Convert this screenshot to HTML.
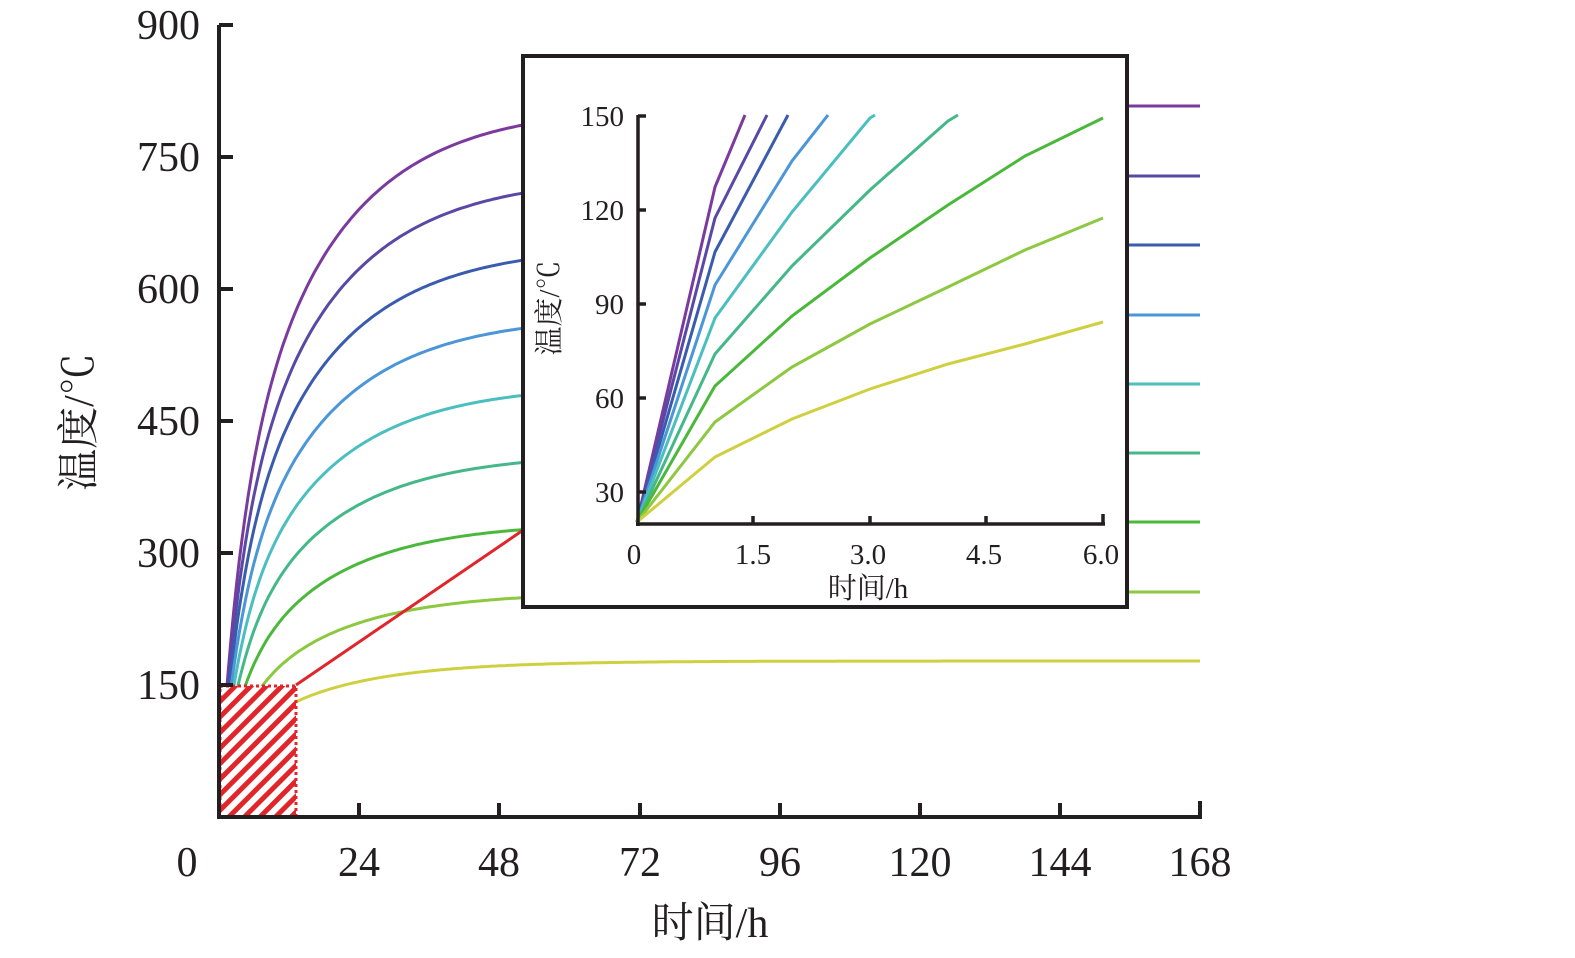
<!DOCTYPE html>
<html><head><meta charset="utf-8"><style>
html,body{margin:0;padding:0;background:#fff}
svg{display:block}
text{font-family:"Liberation Serif","Noto Serif CJK SC",serif;fill:#231f20}
</style></head><body>
<svg id="s" width="1575" height="958" xmlns="http://www.w3.org/2000/svg">
<defs>
<pattern id="h" patternUnits="userSpaceOnUse" width="11" height="11" patternTransform="rotate(45)">
<rect x="0" y="0" width="11" height="11" fill="#fff"/>
<rect x="0" y="0" width="5" height="11" fill="#e0262b"/>
</pattern>
<clipPath id="mc"><rect x="219" y="0" width="1000" height="817"/></clipPath>
</defs>
<g id="main" clip-path="url(#mc)"></g>
<rect x="220" y="686" width="76" height="131" fill="url(#h)" stroke="#e0262b" stroke-width="3" stroke-dasharray="3,3"/>
<line x1="296" y1="685" x2="560" y2="505" stroke="#e0262b" stroke-width="3"/>
<g stroke="#231f20" stroke-width="4" fill="none">
<path d="M219 25 V819 M217 817 H1202"/>
<path d="M219 25 H233 M219 157 H233 M219 289 H233 M219 421 H233 M219 553 H233 M219 685 H233"/>
<path d="M359 817 V803 M499 817 V803 M640 817 V803 M780 817 V803 M920 817 V803 M1060 817 V803 M1200 817 V801"/>
</g>
<g font-size="42" text-anchor="end">
<text x="200" y="39">900</text><text x="200" y="171">750</text><text x="200" y="303">600</text>
<text x="200" y="435">450</text><text x="200" y="567">300</text><text x="200" y="699">150</text>
</g>
<g font-size="42" text-anchor="middle">
<text x="187" y="876">0</text><text x="359" y="876">24</text><text x="499" y="876">48</text><text x="640" y="876">72</text>
<text x="780" y="876">96</text><text x="920" y="876">120</text><text x="1060" y="876">144</text><text x="1200" y="876">168</text>
<text x="710" y="937">时间/h</text>
<text transform="translate(93,422) rotate(-90)">温度/℃</text>
</g>
<rect x="523" y="56" width="604" height="551" fill="#fff" stroke="#231f20" stroke-width="4"/>
<g id="ins"></g>
<g stroke="#231f20" stroke-width="3.5" fill="none">
<path d="M638 115 V526 M636 524 H1105"/>
<path d="M638 116 H646 M638 210 H646 M638 304 H646 M638 398 H646 M638 492 H646"/>
<path d="M753 524 V516 M870 524 V516 M986 524 V516 M1103 524 V514"/>
</g>
<g font-size="29" text-anchor="end">
<text x="624" y="126">150</text><text x="624" y="220">120</text><text x="624" y="314">90</text>
<text x="624" y="408">60</text><text x="624" y="502">30</text>
</g>
<g font-size="29" text-anchor="middle">
<text x="634" y="564">0</text><text x="753" y="564">1.5</text><text x="868" y="564">3.0</text>
<text x="984" y="564">4.5</text><text x="1101" y="564">6.0</text>
<text x="868" y="598">时间/h</text>
<text transform="translate(559,308) rotate(-90)">温度/℃</text>
</g>
</svg>
<script>
var cols=["#7b3a9e","#5a48a6","#3a5cae","#4b96d8","#4bbfbf","#45b88a","#4ab83a","#8cc840","#cfd040"];
var fy=[106,176,245,315,384,453,522,592,661];
var NS="http://www.w3.org/2000/svg";
var m=document.getElementById("main");
for(var i=0;i<9;i++){
 var Tf=(817-fy[i])/0.88, d="";
 for(var t=0;t<=168;t+=0.5){
  var r=0.63*Math.exp(-t/16.6)+0.37*Math.exp(-t/3.7);
  var T=Tf-r*(Tf-20);
  var x=219+t*981/168, y=817-T*0.88;
  d+=(t==0?"M":"L")+x.toFixed(1)+" "+y.toFixed(1);
 }
 var p=document.createElementNS(NS,"path");
 p.setAttribute("d",d);p.setAttribute("stroke",cols[i]);p.setAttribute("stroke-width","3");p.setAttribute("fill","none");
 m.appendChild(p);
}
var ins=[
"M637 522 L715 187 L745 115",
"M637 522 L715 218 L767 115",
"M637 522 L715 252 L788 115",
"M637 522 L715 285 L792 161 L828 115",
"M637 522 L715 318 L792 212 L870 118 L875 115",
"M637 522 L715 354 L792 266 L870 190 L948 121 L958 115",
"M637 522 L715 386 L792 316 L870 258 L948 205 L1025 156 L1103 118",
"M637 522 L715 422 L792 367 L870 324 L948 287 L1025 250 L1103 218",
"M637 522 L715 457 L792 419 L870 389 L948 364 L1025 344 L1103 322"];
var g=document.getElementById("ins");
for(var i=0;i<9;i++){
 var p=document.createElementNS(NS,"path");
 p.setAttribute("d",ins[i]);p.setAttribute("stroke",cols[i]);p.setAttribute("stroke-width","3");p.setAttribute("fill","none");
 g.appendChild(p);
}
</script>
</body></html>
